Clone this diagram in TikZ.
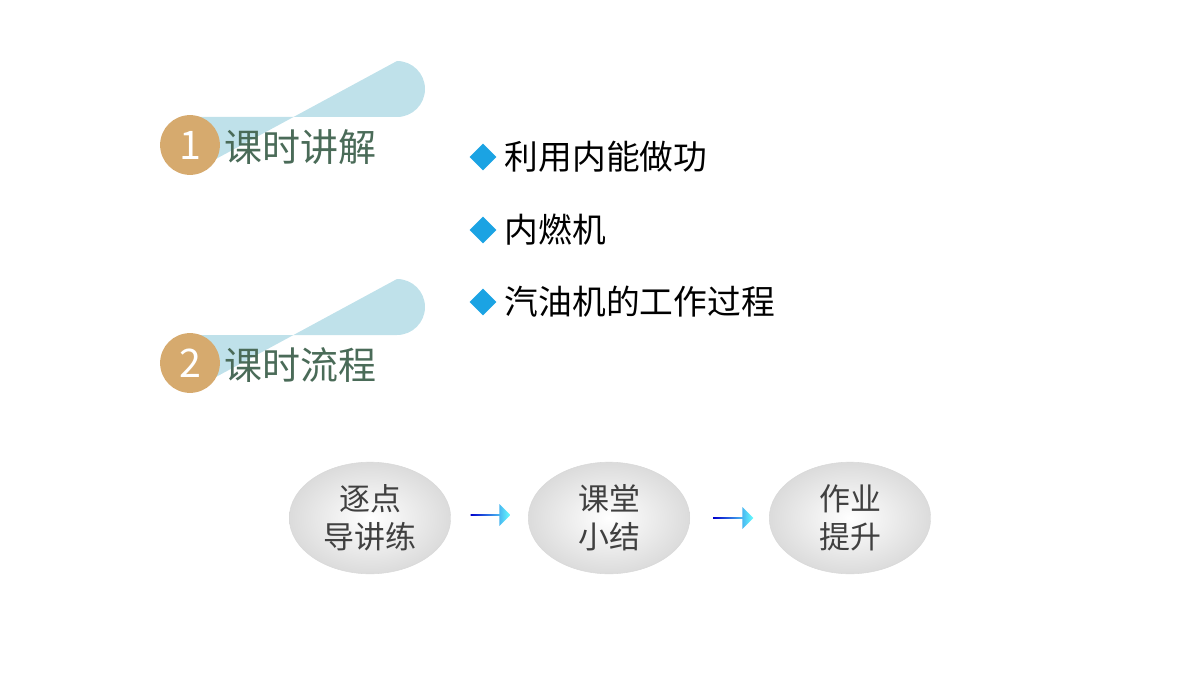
\documentclass[tikz,border=0pt]{standalone}
\usepackage{fontspec}
\newfontfamily\cjk{Noto Sans CJK SC}
\usetikzlibrary{shapes.arrows,shapes.geometric}
\definecolor{tan}{HTML}{D6AA6E}
\definecolor{pill}{HTML}{BFE1EA}
\definecolor{headtext}{HTML}{4A6B58}
\definecolor{bullet}{HTML}{1BA3E3}
\def\px{*0.7087pt}
\tikzset{
  badge/.style={circle,fill=tan,minimum size=60\px,inner sep=0pt,
    text=white,font=\cjk\fontsize{28}{28}\selectfont},
  heading/.style={anchor=west,text=headtext,font=\cjk\fontsize{27}{27}\selectfont},
  item/.style={anchor=west,font=\cjk\fontsize{24}{24}\selectfont},
  bulletmark/.style={diamond,fill=bullet,minimum size=27\px,inner sep=0pt},
  stage/.style={ellipse,draw=gray!30,inner color=white,outer color=gray!28,
    minimum width=162\px,minimum height=112\px,align=center,text=black!75,
    font=\cjk\fontsize{22}{27}\selectfont},
  flow/.style={single arrow,draw=none,inner sep=0pt,minimum height=40\px,
    minimum width=22\px,single arrow head extend=3\px,
    left color=blue!80!black,right color=cyan!60}
}
\begin{document}
\begin{tikzpicture}[x=0.025cm,y=-0.025cm]
  \useasboundingbox (0,0) rectangle (1200,675);

  % headings
  \fill[pill] (190,117) -- (397,117) arc[start angle=90,end angle=-90,radius=28] -- (190,173) -- cycle;
  \node[badge] (one) at (190,145) {1};
  \node[heading] (head1) at (220,147) {课时讲解};
  \fill[pill] (190,335) -- (397,335) arc[start angle=90,end angle=-90,radius=28] -- (190,391) -- cycle;
  \node[badge] (two) at (190,363) {2};
  \node[heading] (head2) at (220,365) {课时流程};

  % items
  \node[bulletmark] (m1) at (483,157) {};
  \node[item] (i1) at (500,157) {利用内能做功};
  \node[bulletmark] (m2) at (483,230) {};
  \node[item] (i2) at (500,230) {内燃机};
  \node[bulletmark] (m3) at (483,302) {};
  \node[item] (i3) at (500,302) {汽油机的工作过程};

  % flow
  \node[stage] (s1) at (370,518) {逐点\\导讲练};
  \node[stage] (s2) at (609,518) {课堂\\小结};
  \node[stage] (s3) at (850,518) {作业\\提升};
  \node[flow] (a1) at (490,515) {};
  \node[flow] (a2) at (733,518) {};
\end{tikzpicture}
\end{document}
